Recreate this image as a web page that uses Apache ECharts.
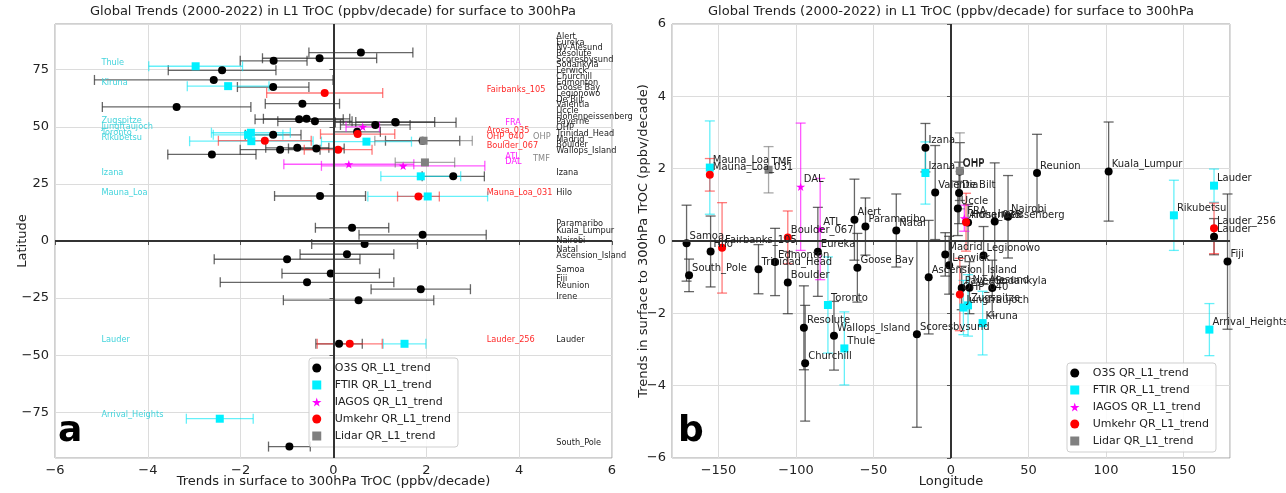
<!DOCTYPE html>
<html>
<head>
<meta charset="utf-8">
<script src="https://cdn.jsdelivr.net/npm/echarts@6/dist/echarts.min.js"></script>
<style>
  html, body { margin: 0; padding: 0; background: #fff; }
  #chart { width: 1286px; height: 493px; }
</style>
</head>
<body>
<div id="chart"></div>
<script>
// ---- data ----
const o3sNames = ['Alert', 'Eureka', 'Ny-Alesund', 'Resolute', 'Scoresbysund', 'Sodankyla', 'Lerwick', 'Churchill',
  'Edmonton', 'Goose Bay', 'Legionowo', 'De Bilt', 'Valentia', 'Uccle', 'Hohenpeissenberg', 'Payerne', 'OHP',
  'Trinidad_Head', 'Madrid', 'Boulder', 'Wallops_Island', 'Izana', 'Hilo', 'Paramaribo', 'Kuala_Lumpur', 'Nairobi',
  'Natal', 'Ascension_Island', 'Samoa', 'Fiji', 'Reunion', 'Irene', 'Lauder', 'South_Pole'];
const o3sLat = [82.5, 80.0, 78.9, 74.7, 70.5, 67.4, 60.1, 58.7, 53.5, 53.3, 52.4, 52.1, 51.9, 50.8, 47.8, 46.5, 43.9,
  40.8, 40.5, 40.0, 37.9, 28.3, 19.7, 5.8, 2.7, -1.3, -5.8, -8.0, -14.2, -18.1, -21.1, -25.9, -45.0, -90.0];
const o3sLon = [-62.3, -85.9, 11.9, -94.9, -22.0, 26.6, -1.2, -94.1, -113.5, -60.4, 21.0, 5.2, -10.2, 4.4, 11.0, 6.9, 5.7,
  -124.2, -3.7, -105.3, -75.5, -16.5, -155.1, -55.2, 101.7, 36.8, -35.3, -14.4, -170.6, 178.4, 55.5, 28.2, 169.7, -169.0];
const o3sTrend = [0.59, -0.30, -1.29, -2.40, -2.58, -1.30, -0.67, -3.38, -0.58, -0.74, -0.40, 1.33, 1.34, 0.90, 0.51, -1.30, 1.92,
  -0.78, -0.37, -1.15, -2.62, 2.58, -0.29, 0.40, 1.92, 0.67, 0.29, -1.00, -0.06, -0.57, 1.88, 0.54, 0.12, -0.95];
const o3sErr = [1.12, 1.23, 0.72, 1.16, 2.57, 0.77, 0.80, 1.60, 0.93, 0.95, 0.80, 0.85, 1.30, 0.75, 0.50, 0.60, 0.80,
  0.68, 0.60, 0.86, 0.95, 0.67, 0.98, 0.79, 1.37, 1.14, 1.01, 1.57, 1.05, 1.87, 1.07, 1.62, 0.50, 0.45];

const ftirNames = ['Thule', 'Kiruna', 'Zugspitze', 'Jungfraujoch', 'Toronto', 'Rikubetsu', 'Izana', 'Mauna_Loa', 'Lauder', 'Arrival_Heights'];
const ftirLat = [76.5, 67.8, 47.4, 46.5, 43.7, 43.5, 28.3, 19.5, -45.0, -77.8];
const ftirLon = [-68.8, 20.4, 11.0, 8.0, -79.4, 143.8, -16.5, -155.6, 169.7, 166.7];
const ftirTrend = [-2.97, -2.27, -1.78, -1.84, -1.77, 0.71, 1.88, 2.03, 1.53, -2.45];
const ftirErr = [1.01, 0.88, 0.85, 0.75, 1.33, 0.97, 0.86, 1.29, 0.46, 0.72];

const iagosNames = ['FRA', 'ATL', 'DAL'];
const iagosLat = [50.0, 33.6, 32.9];
const iagosLon = [8.6, -84.4, -97.0];
const iagosTrend = [0.63, 0.33, 1.50];
const iagosErr = [0.36, 1.40, 1.76];

const umkehrNames = ['Fairbanks_105', 'Arosa_035', 'OHP_040', 'Boulder_067', 'Mauna_Loa_031', 'Lauder_256'];
const umkehrLat = [64.8, 46.8, 43.9, 40.0, 19.5, -45.0];
const umkehrLon = [-147.7, 9.7, 5.7, -105.3, -155.6, 169.7];
const umkehrTrend = [-0.19, 0.52, -1.48, 0.10, 1.83, 0.35];
const umkehrErr = [1.25, 0.80, 1.00, 0.73, 0.45, 0.70];

const lidarNames = ['OHP', 'TMF'];
const lidarLat = [43.9, 34.4];
const lidarLon = [5.7, -117.7];
const lidarTrend = [1.94, 1.97];
const lidarErr = [1.05, 0.64];

const TITLE = 'Global Trends (2000-2022) in L1 TrOC (ppbv/decade) for surface to 300hPa';
const TREND_NAME = 'Trends in surface to 300hPa TrOC (ppbv/decade)';
const FONT = "'DejaVu Sans', sans-serif";
const CAP = 5;

const STAR = 'path://M50,0 L61,35 L98,35 L68,57 L79,91 L50,70 L21,91 L32,57 L2,35 L39,35 Z';
const SQUARE = 'path://M0,0 L10,0 L10,10 L0,10 Z';

const groups = [
  { name: 'O3S QR_L1_trend', names: o3sNames, lat: o3sLat, lon: o3sLon, trend: o3sTrend, err: o3sErr,
    symbol: 'circle', size: 8, color: '#000000', bar: 'rgba(45,45,45,0.72)', labelColor: '#222222', labelX: 4.8 },
  { name: 'FTIR QR_L1_trend', names: ftirNames, lat: ftirLat, lon: ftirLon, trend: ftirTrend, err: ftirErr,
    symbol: SQUARE, size: 8, color: '#00f0ff', bar: 'rgba(0,230,245,0.6)', labelColor: '#44d4dc', labelX: -5.0 },
  { name: 'IAGOS QR_L1_trend', names: iagosNames, lat: iagosLat, lon: iagosLon, trend: iagosTrend, err: iagosErr,
    symbol: STAR, size: 9, color: '#ff00ff', bar: 'rgba(255,0,255,0.65)', labelColor: '#ff22ff', labelX: 3.7 },
  { name: 'Umkehr QR_L1_trend', names: umkehrNames, lat: umkehrLat, lon: umkehrLon, trend: umkehrTrend, err: umkehrErr,
    symbol: 'circle', size: 8, color: '#ff0000', bar: 'rgba(255,40,40,0.62)', labelColor: '#ff2a2a', labelX: 3.3 },
  { name: 'Lidar QR_L1_trend', names: lidarNames, lat: lidarLat, lon: lidarLon, trend: lidarTrend, err: lidarErr,
    symbol: SQUARE, size: 8, color: '#808080', bar: 'rgba(110,110,110,0.6)', labelColor: '#888888', labelX: 4.3 },
];

// push overlapping station labels upwards (like the side lists in panel a)
function spreadLabels(lats, offset, gap) {
  const order = lats.map((_, i) => i).sort((a, b) => lats[a] - lats[b]);
  const out = new Array(lats.length);
  let prev = -Infinity;
  order.forEach((i) => {
    let y = lats[i] + offset;
    if (y < prev + gap) y = prev + gap;
    out[i] = y;
    prev = y;
  });
  return out;
}

const minus = (v) => (v < 0 ? '\u2212' + Math.abs(v) : String(v));

function hBars(color) {
  return (params, api) => {
    const a = api.coord([api.value(0), api.value(2)]);
    const b = api.coord([api.value(1), api.value(2)]);
    const y = a[1];
    const style = { stroke: color, lineWidth: 1.3 };
    return { type: 'group', children: [
      { type: 'line', shape: { x1: a[0], y1: y, x2: b[0], y2: y }, style },
      { type: 'line', shape: { x1: a[0], y1: y - CAP, x2: a[0], y2: y + CAP }, style },
      { type: 'line', shape: { x1: b[0], y1: y - CAP, x2: b[0], y2: y + CAP }, style },
    ] };
  };
}

function vBars(color) {
  return (params, api) => {
    const a = api.coord([api.value(0), api.value(1)]);
    const b = api.coord([api.value(0), api.value(2)]);
    const x = a[0];
    const style = { stroke: color, lineWidth: 1.3 };
    return { type: 'group', children: [
      { type: 'line', shape: { x1: x, y1: a[1], x2: x, y2: b[1] }, style },
      { type: 'line', shape: { x1: x - CAP, y1: a[1], x2: x + CAP, y2: a[1] }, style },
      { type: 'line', shape: { x1: x - CAP, y1: b[1], x2: x + CAP, y2: b[1] }, style },
    ] };
  };
}

const zeroLines = {
  silent: true,
  symbol: ['none', 'none'],
  label: { show: false },
  lineStyle: { color: '#333', width: 2, type: 'solid' },
  data: [{ xAxis: 0 }, { yAxis: 0 }],
};

const series = [];
groups.forEach((g, gi) => {
  // panel a: trend vs latitude
  series.push({
    type: 'custom', xAxisIndex: 0, yAxisIndex: 0, silent: true,
    encode: { x: [0, 1], y: 2 },
    renderItem: hBars(g.bar),
    data: g.trend.map((t, i) => [t - g.err[i], t + g.err[i], g.lat[i]]),
  });
  series.push({
    name: g.name, type: 'scatter', xAxisIndex: 0, yAxisIndex: 0,
    symbol: g.symbol, symbolSize: g.size, symbolKeepAspect: true,
    itemStyle: { color: g.color, opacity: 1 },
    data: g.trend.map((t, i) => [t, g.lat[i]]),
    markLine: gi === 0 ? zeroLines : undefined,
  });
  const labLat = spreadLabels(g.lat, 1.54, 2.5);
  series.push({
    type: 'custom', xAxisIndex: 0, yAxisIndex: 0, silent: true, z: 5,
    encode: { x: 0, y: 1 },
    data: labLat.map((y) => [g.labelX, y]),
    renderItem: (params, api) => {
      const p = api.coord([api.value(0), api.value(1)]);
      return { type: 'text', x: p[0], y: p[1], style: {
        text: g.names[params.dataIndex], fill: g.labelColor, font: '8.2px ' + FONT,
        align: 'left', verticalAlign: 'middle' } };
    },
  });

  // panel b: trend vs longitude
  series.push({
    type: 'custom', xAxisIndex: 1, yAxisIndex: 1, silent: true,
    encode: { x: 0, y: [1, 2] },
    renderItem: vBars(g.bar),
    data: g.trend.map((t, i) => [g.lon[i], t - g.err[i], t + g.err[i]]),
  });
  series.push({
    name: g.name, type: 'scatter', xAxisIndex: 1, yAxisIndex: 1,
    symbol: g.symbol, symbolSize: g.size, symbolKeepAspect: true,
    itemStyle: { color: g.color, opacity: 1 },
    data: g.trend.map((t, i) => [g.lon[i], t]),
    markLine: gi === 0 ? zeroLines : undefined,
  });
});

// station annotations of panel b
groups.forEach((g) => {
  series.push({
    type: 'custom', xAxisIndex: 1, yAxisIndex: 1, silent: true, z: 5,
    encode: { x: 0, y: 1 },
    data: g.trend.map((t, i) => [g.lon[i], t]),
    renderItem: (params, api) => {
      const p = api.coord([api.value(0), api.value(1)]);
      return { type: 'text', x: p[0] + 3, y: p[1] - 7, style: {
        text: g.names[params.dataIndex], fill: '#222', font: '10px ' + FONT,
        align: 'left', verticalAlign: 'middle' } };
    },
  });
});

const axisCommon = {
  axisLine: { show: false },
  axisTick: { show: true, length: 4, lineStyle: { color: '#555' } },
  axisLabel: { color: '#222', fontSize: 13, fontFamily: FONT, formatter: minus, margin: 6 },
  splitLine: { show: true, lineStyle: { color: '#dcdcdc', width: 1 } },
  nameLocation: 'middle',
  nameMoveOverlap: false,
  nameTextStyle: { color: '#222', fontSize: 13, fontFamily: FONT },
};

const legendData = groups.map((g) => ({
  name: g.name, icon: g.symbol === 'circle' ? 'circle' : g.symbol,
  itemStyle: { color: g.color },
}));
const legendCommon = {
  orient: 'vertical', data: legendData,
  itemWidth: 26, itemHeight: 9, itemGap: 5,
  padding: [4, 7, 5, 3],
  backgroundColor: 'rgba(255,255,255,0.85)', borderColor: '#cfcfcf', borderWidth: 1, borderRadius: 3,
  textStyle: { color: '#222', fontSize: 11, lineHeight: 12, fontFamily: FONT },
  selectedMode: false,
};

const chart = echarts.init(document.getElementById('chart'), null, { renderer: 'canvas' });
chart.setOption({
  animation: false,
  backgroundColor: '#fff',
  grid: [
    { left: 55, top: 24, width: 557, height: 434, show: true, borderColor: '#a0a0a0', borderWidth: 1, backgroundColor: 'transparent' },
    { left: 672, top: 24, width: 558, height: 434, show: true, borderColor: '#a0a0a0', borderWidth: 1, backgroundColor: 'transparent' },
  ],
  xAxis: [
    { ...axisCommon, type: 'value', gridIndex: 0, min: -6, max: 6, interval: 2, name: TREND_NAME, nameGap: 17 },
    { ...axisCommon, type: 'value', gridIndex: 1, min: -180, max: 180, minInterval: 50, maxInterval: 50,
      axisLabel: { ...axisCommon.axisLabel, showMinLabel: false, showMaxLabel: false }, name: 'Longitude', nameGap: 17 },
  ],
  yAxis: [
    { ...axisCommon, type: 'value', gridIndex: 0, min: -95, max: 95, minInterval: 25, maxInterval: 25,
      axisLabel: { ...axisCommon.axisLabel, showMinLabel: false, showMaxLabel: false }, name: 'Latitude', nameGap: 26 },
    { ...axisCommon, type: 'value', gridIndex: 1, min: -6, max: 6, interval: 2, name: TREND_NAME, nameGap: 22 },
  ],
  legend: [
    { ...legendCommon, left: 309, top: 358 },
    { ...legendCommon, left: 1067, top: 363 },
  ],
  graphic: [
    { type: 'text', x: 333, y: 12, style: { text: TITLE, fill: '#222', font: '13px ' + FONT, align: 'center', verticalAlign: 'middle' } },
    { type: 'text', x: 951, y: 12, style: { text: TITLE, fill: '#222', font: '13px ' + FONT, align: 'center', verticalAlign: 'middle' } },
    { type: 'text', x: 58, y: 432, z: 100, style: { text: 'a', fill: '#000', font: 'bold 36px ' + FONT, align: 'left', verticalAlign: 'middle' } },
    { type: 'text', x: 678, y: 432, z: 100, style: { text: 'b', fill: '#000', font: 'bold 36px ' + FONT, align: 'left', verticalAlign: 'middle' } },
  ],
  series,
});
</script>
</body>
</html>
